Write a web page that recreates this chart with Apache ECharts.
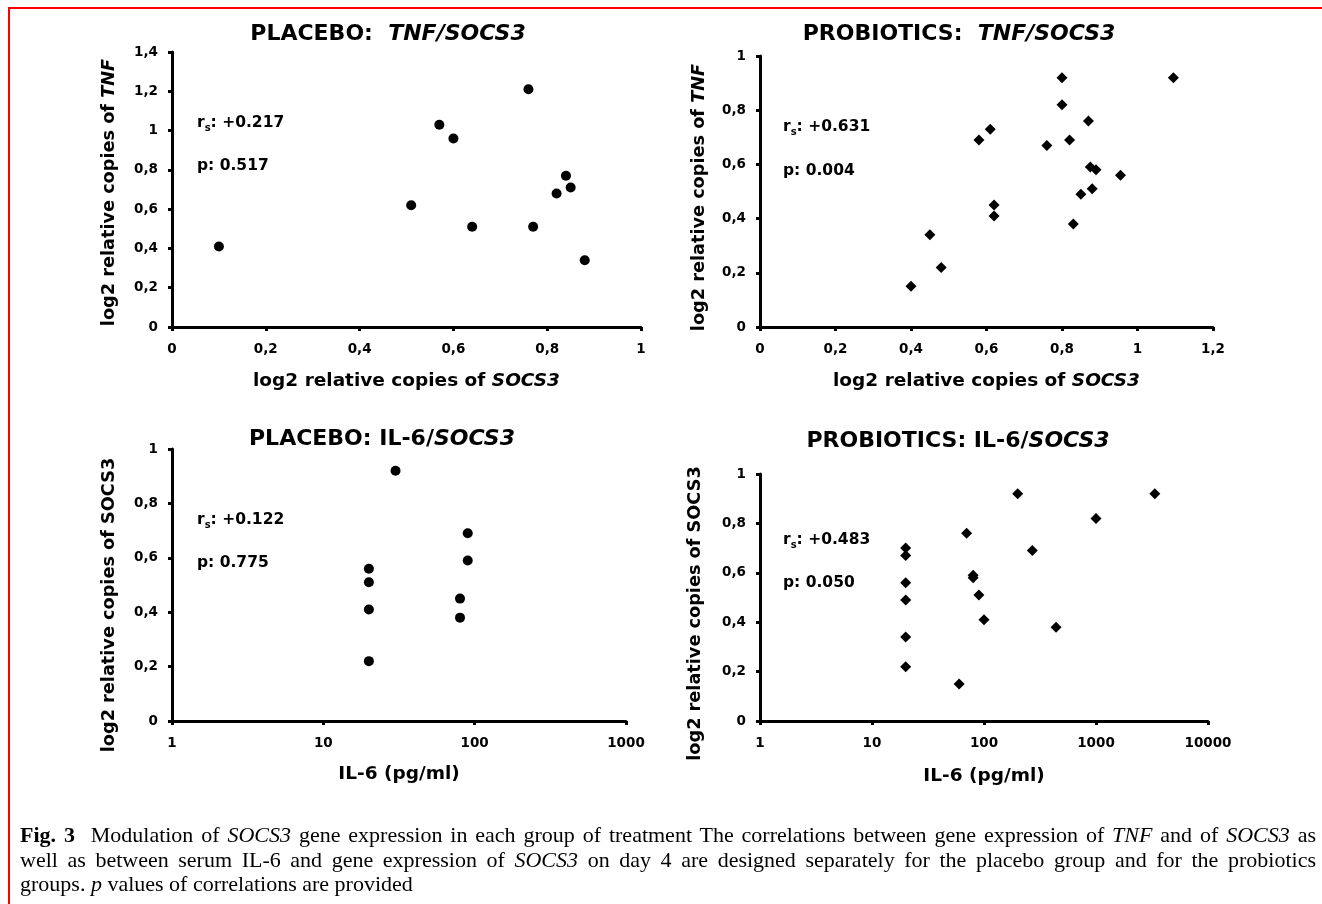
<!DOCTYPE html>
<html>
<head>
<meta charset="utf-8">
<script src="https://cdn.jsdelivr.net/npm/echarts/dist/echarts.min.js"></script>
<style>
html, body { margin: 0; padding: 0; background: #fff; }
#wrap { position: relative; width: 1322px; height: 904px; overflow: hidden; background: #fff; }
#chart { position: absolute; left: 0; top: 0; width: 1322px; height: 904px; }
#frame { position: absolute; left: 8px; top: 7px; right: -10px; bottom: -10px; border-top: 2px solid #ff0000; border-left: 2px solid #ff0000; pointer-events: none; }
#caption { position: absolute; left: 20px; top: 823px; width: 1296px; font-family: 'Liberation Serif', 'Times New Roman', serif; font-size: 22px; line-height: 24.5px; color: #000; }
#caption .j { text-align: justify; text-align-last: justify; }
</style>
</head>
<body>
<div id="wrap">
  <div id="chart"></div>
  <div id="frame"></div>
  <div id="caption">
    <div class="j"><b>Fig. 3</b>&nbsp; Modulation of <i>SOCS3</i> gene expression in each group of treatment The correlations between gene expression of <i>TNF</i> and of <i>SOCS3</i> as</div>
    <div class="j">well as between serum IL-6 and gene expression of <i>SOCS3</i> on day 4 are designed separately for the placebo group and for the probiotics</div>
    <div>groups. <i>p</i> values of correlations are provided</div>
  </div>
</div>
<script>
// ---- Data ----
const placeboSocs3 = [0.10, 0.51, 0.57, 0.60, 0.64, 0.76, 0.77, 0.82, 0.84, 0.85, 0.88];
const placeboTnf   = [0.41, 0.62, 1.03, 0.96, 0.51, 1.21, 0.51, 0.68, 0.77, 0.71, 0.34];

const probioticsSocs3 = [0.40, 0.45, 0.48, 0.58, 0.61, 0.62, 0.62, 0.76, 0.80, 0.80, 0.82, 0.83, 0.85, 0.87, 0.875, 0.89, 0.88, 0.955, 1.095];
const probioticsTnf   = [0.15, 0.34, 0.22, 0.69, 0.73, 0.45, 0.41, 0.67, 0.92, 0.82, 0.69, 0.38, 0.49, 0.76, 0.59, 0.58, 0.51, 0.56, 0.92];

const placeboIl6       = [20, 20, 20, 20, 30, 80, 80, 90, 90];
const placeboIl6Socs3  = [0.56, 0.51, 0.41, 0.22, 0.92, 0.45, 0.38, 0.69, 0.59];

const probioticsIl6      = [20, 20, 20, 20, 20, 20, 60, 70, 80, 80, 90, 100, 200, 270, 440, 1000, 3350];
const probioticsIl6Socs3 = [0.70, 0.67, 0.56, 0.49, 0.34, 0.22, 0.15, 0.76, 0.59, 0.58, 0.51, 0.41, 0.92, 0.69, 0.38, 0.82, 0.92];

const panelTitles = [
  '{n|PLACEBO:  }{i|TNF/SOCS3}',
  '{n|PROBIOTICS:  }{i|TNF/SOCS3}',
  '{n|PLACEBO: IL-6/}{i|SOCS3}',
  '{n|PROBIOTICS: IL-6/}{i|SOCS3}'
];
const rsValues = ['+0.217', '+0.631', '+0.122', '+0.483'];
const pValues  = ['0.517', '0.004', '0.775', '0.050'];

// ---- Caption: keep each justified line on one line ----
(function fitCaption() {
  const cap = document.getElementById('caption');
  let size = 22;
  const lines = cap.querySelectorAll('.j');
  for (let n = 0; n < 20; n++) {
    let ok = true;
    lines.forEach(l => { if (l.getBoundingClientRect().height > 30) ok = false; });
    if (ok) break;
    size -= 0.25;
    cap.style.fontSize = size + 'px';
  }
})();

// ---- Chart ----
const WIDE = "'DejaVu Sans', Verdana, sans-serif";
const zip = (xs, ys) => xs.map((x, i) => [x, ys[i]]);
const commaFmt = v => (Math.round(v * 10) / 10).toString().replace('.', ',');
const plainFmt = v => String(Math.round(v));

const grids = [
  { left: 172, top: 52,  width: 469, height: 275 },
  { left: 760, top: 56,  width: 453, height: 271 },
  { left: 172, top: 449, width: 454, height: 272 },
  { left: 760, top: 474, width: 448, height: 247 }
];

function nameStyle(size, shift) {
  return {
    color: '#000', fontWeight: 'bold', fontSize: size, fontFamily: WIDE,
    padding: shift ? [0, 2 * shift, 0, 0] : 0,
    rich: { i: { fontStyle: 'italic', fontWeight: 'bold', fontSize: size, fontFamily: WIDE, color: '#000' } }
  };
}
const axisCommon = {
  axisLine: { show: true, onZero: false, lineStyle: { color: '#000', width: 3 } },
  axisTick: { show: true, inside: false, length: 4, lineStyle: { color: '#000', width: 3 } },
  splitLine: { show: false },
  axisLabel: { color: '#000', fontWeight: 'bold', fontSize: 13.5, fontFamily: WIDE },
  nameLocation: 'middle'
};
function xVal(grid, max, name, gap) {
  return Object.assign({}, axisCommon, {
    type: 'value', gridIndex: grid, min: 0, max: max, interval: 0.2,
    name: name, nameGap: gap, nameTextStyle: nameStyle(18.5, 0),
    axisLabel: Object.assign({}, axisCommon.axisLabel, { margin: 15, formatter: commaFmt })
  });
}
function xLog(grid, max, name, gap) {
  return Object.assign({}, axisCommon, {
    type: 'log', logBase: 10, gridIndex: grid, min: 1, max: max,
    name: name, nameGap: gap, nameTextStyle: nameStyle(18.5, 0),
    axisLabel: Object.assign({}, axisCommon.axisLabel, { margin: 15, formatter: plainFmt })
  });
}
function yVal(grid, max, name, gap, shift) {
  return Object.assign({}, axisCommon, {
    type: 'value', gridIndex: grid, min: 0, max: max, interval: 0.2,
    name: name, nameGap: gap, nameTextStyle: nameStyle(17.7, shift),
    axisLabel: Object.assign({}, axisCommon.axisLabel, { margin: 14, formatter: commaFmt })
  });
}

const titlePos = [[388, 34], [959, 34], [382, 439], [958, 441]];
const annPos = [[197, 123, 166], [783, 127, 171], [197, 520, 563], [783, 540, 583]];

const graphics = [];
panelTitles.forEach((t, k) => {
  graphics.push({
    type: 'text', x: titlePos[k][0], y: titlePos[k][1], silent: true,
    style: {
      text: t, align: 'center', verticalAlign: 'middle', fill: '#000',
      rich: {
        n: { fontSize: 22, fontWeight: 'bold', fontFamily: WIDE, fill: '#000' },
        i: { fontSize: 22, fontWeight: 'bold', fontStyle: 'italic', fontFamily: WIDE, fill: '#000' }
      }
    }
  });
});
rsValues.forEach((r, k) => {
  graphics.push({
    type: 'text', x: annPos[k][0], y: annPos[k][1], silent: true,
    style: {
      text: '{a|r}{s|s}{a|: ' + r + '}', align: 'left', verticalAlign: 'middle', fill: '#000',
      rich: {
        a: { fontSize: 15.5, fontWeight: 'bold', fontFamily: WIDE, fill: '#000', lineHeight: 21, verticalAlign: 'middle' },
        s: { fontSize: 10, fontWeight: 'bold', fontFamily: WIDE, fill: '#000', lineHeight: 11, verticalAlign: 'bottom' }
      }
    }
  });
  graphics.push({
    type: 'text', x: annPos[k][0], y: annPos[k][2], silent: true,
    style: {
      text: 'p: ' + pValues[k], align: 'left', verticalAlign: 'middle', fill: '#000',
      fontSize: 15.5, fontWeight: 'bold', fontFamily: WIDE
    }
  });
});

const scatter = (gi, data, symbol, size) => ({
  type: 'scatter', xAxisIndex: gi, yAxisIndex: gi, data: data,
  symbol: symbol, symbolSize: size, silent: true,
  itemStyle: { color: '#000', opacity: 1 }
});

const option = {
  backgroundColor: '#fff',
  animation: false,
  grid: grids.map(g => Object.assign({ containLabel: false }, g)),
  xAxis: [
    xVal(0, 1,   'log2 relative copies of {i|SOCS3}', 45),
    xVal(1, 1.2, 'log2 relative copies of {i|SOCS3}', 45),
    xLog(2, 1000,  'IL-6 (pg/ml)', 44),
    xLog(3, 10000, 'IL-6 (pg/ml)', 46)
  ],
  yAxis: [
    yVal(0, 1.4, 'log2 relative copies of {i|TNF}', 54, 3),
    yVal(1, 1,   'log2 relative copies of {i|TNF}', 52, 6),
    yVal(2, 1,   'log2 relative copies of SOCS3', 54, 20),
    yVal(3, 1,   'log2 relative copies of SOCS3', 56, 16)
  ],
  series: [
    scatter(0, zip(placeboSocs3, placeboTnf), 'circle', 10),
    scatter(1, zip(probioticsSocs3, probioticsTnf), 'diamond', 11),
    scatter(2, zip(placeboIl6, placeboIl6Socs3), 'circle', 10),
    scatter(3, zip(probioticsIl6, probioticsIl6Socs3), 'diamond', 11)
  ],
  graphic: graphics
};

const chart = echarts.init(document.getElementById('chart'), null, { renderer: 'canvas' });
chart.setOption(option);
</script>
</body>
</html>
